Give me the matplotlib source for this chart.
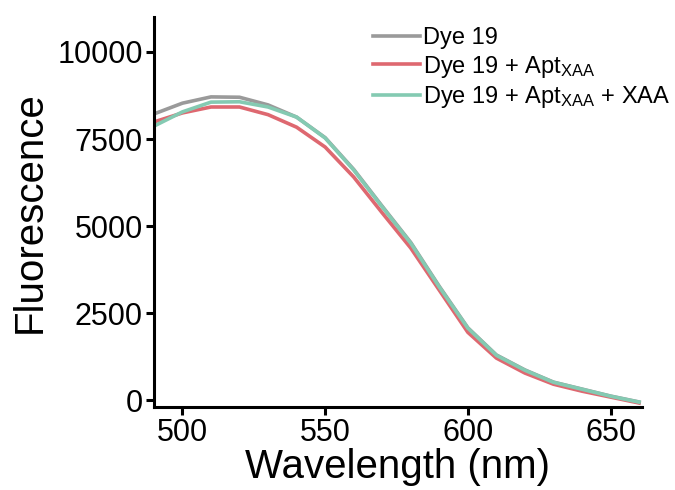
#!/usr/bin/env python3
"""
Fluorescence emission spectra of Dye 19 with/without aptamer and XAA
"""

import matplotlib
matplotlib.use("Agg")
import matplotlib.pyplot as plt

plt.rcParams['font.family'] = ['Liberation Sans', 'DejaVu Sans']
plt.rcParams['mathtext.fontset'] = 'custom'
plt.rcParams['mathtext.rm'] = 'Liberation Sans'
plt.rcParams['mathtext.it'] = 'Liberation Sans'

# Wavelength (nm)
wavelength = [490, 500, 510, 520, 530, 540, 550, 560, 570, 580,
              590, 600, 610, 620, 630, 640, 650, 660]

# Fluorescence readings
dye = [8220, 8530, 8710, 8700, 8480, 8130, 7540, 6630, 5570, 4530,
       3270, 2080, 1300, 870, 520, 320, 120, -50]
dye_apt = [7990, 8250, 8420, 8420, 8200, 7840, 7270, 6410, 5380, 4370,
           3160, 1950, 1210, 780, 460, 260, 90, -80]
dye_apt_xaa = [7870, 8280, 8560, 8570, 8420, 8130, 7530, 6610, 5550, 4510,
               3250, 2070, 1290, 860, 515, 315, 115, -55]

labels = ['Dye 19',
          r'Dye 19 + Apt$_{\mathrm{XAA}}$',
          r'Dye 19 + Apt$_{\mathrm{XAA}}$ + XAA']
colors = ['#9a9a9a', '#de6870', '#84cab2']

fig = plt.figure(figsize=(6.75, 4.9), dpi=100)
ax = fig.add_axes([0.228, 0.169, 0.723, 0.796])

for y, lab, c in zip([dye, dye_apt, dye_apt_xaa], labels, colors):
    ax.plot(wavelength, y, color=c, lw=2.6, label=lab)

ax.set_xlim(490, 661)
ax.set_ylim(-200, 11000)
ax.set_xticks([500, 550, 600, 650])
ax.set_yticks([0, 2500, 5000, 7500, 10000])

for side in ['top', 'right']:
    ax.spines[side].set_visible(False)
for side in ['left', 'bottom']:
    ax.spines[side].set_linewidth(2.2)

ax.tick_params(axis='both', width=2.2, length=6, labelsize=22, pad=2)
ax.set_xlabel('Wavelength (nm)', fontsize=29, labelpad=0)
ax.set_ylabel('Fluorescence', fontsize=29, labelpad=6)

ax.legend(loc='upper left', bbox_to_anchor=(0.449, 0.975), frameon=False,
          fontsize=17, handlelength=2.0, handletextpad=0.1,
          labelspacing=0.2, borderaxespad=0, borderpad=0)

plt.savefig('out.png', dpi=100)
